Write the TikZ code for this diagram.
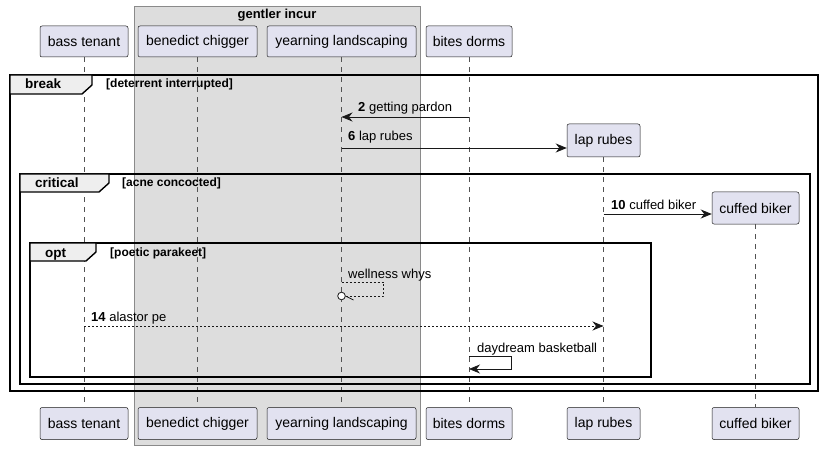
\documentclass[tikz,border=0pt]{standalone}
\usepackage{fontspec}
\setmainfont{Liberation Sans}
\usetikzlibrary{arrows.meta,calc}
\definecolor{partfill}{HTML}{E2E2F0}
\definecolor{partline}{HTML}{181818}
\definecolor{grpfill}{HTML}{DDDDDD}
\definecolor{grpline}{HTML}{8A8A8A}
\definecolor{tabfill}{HTML}{EEEEEE}
\begin{document}
\begin{tikzpicture}[x=1pt,y=-1pt,
  part/.style={draw=partline, fill=partfill, rounded corners=2pt, line width=0.5pt,
    minimum height=31pt, inner sep=0pt, font=\fontsize{14}{16}\selectfont},
  life/.style={draw=partline!75, line width=0.5pt, dash pattern=on 5pt off 5pt},
  msg/.style={draw=partline, line width=0.8pt, -{Stealth[length=11pt,width=9pt,inset=3.5pt]}},
  dmsg/.style={msg, dash pattern=on 2pt off 2pt},
  lbl/.style={anchor=base west, inner sep=0pt, font=\fontsize{13}{15}\selectfont},
  frame/.style={draw=black, line width=1.4pt},
  tab/.style={frame, fill=tabfill},
  ftitle/.style={anchor=base west, inner sep=0pt, font=\fontsize{13.5}{15}\selectfont\bfseries},
  fcond/.style={anchor=base west, inner sep=0pt, font=\fontsize{12}{14}\selectfont\bfseries}
]
\useasboundingbox (0,0) rectangle (824,449);
\fill[white] (0,0) rectangle (824,449);
% group
\draw[draw=grpline, fill=grpfill, line width=0.7pt] (134,6) rectangle (420,445);
\node[font=\fontsize{13}{15}\selectfont\bfseries, inner sep=0pt] (grp) at (277,15) {gentler incur};
% participants top
\node[part, minimum width=88pt] (bt) at (84,41.5) {bass tenant};
\node[part, minimum width=119pt] (bc) at (197.5,41.5) {benedict chigger};
\node[part, minimum width=149pt] (yl) at (341.5,41.5) {yearning landscaping};
\node[part, minimum width=86pt] (bd) at (469,41.5) {bites dorms};
\node[part, minimum width=73pt, minimum height=33pt] (lr) at (603.5,140.5) {lap rubes};
\node[part, minimum width=87pt, minimum height=32pt] (cb) at (755.5,208) {cuffed biker};
% participants bottom
\node[part, minimum width=88pt, minimum height=32pt] (bt2) at (84,423.5) {bass tenant};
\node[part, minimum width=119pt, minimum height=32pt] (bc2) at (197.5,423.5) {benedict chigger};
\node[part, minimum width=149pt, minimum height=32pt] (yl2) at (341.5,423.5) {yearning landscaping};
\node[part, minimum width=86pt, minimum height=32pt] (bd2) at (469,423.5) {bites dorms};
\node[part, minimum width=73pt, minimum height=32pt] (lr2) at (603.5,423.5) {lap rubes};
\node[part, minimum width=87pt, minimum height=32pt] (cb2) at (755.5,423.5) {cuffed biker};
% lifelines
\draw[life] (bt.south) -- (bt2.north);
\draw[life] (bc.south) -- (bc2.north);
\draw[life] (yl.south) -- (yl2.north);
\draw[life] (bd.south) -- (bd2.north);
\draw[life] (lr.south) -- (lr2.north);
\draw[life] (cb.south) -- (cb2.north);
% frames
\draw[frame] (10,75) rectangle (818,391);
\draw[tab] (10,75) -- (92,75) -- (92,85) -- (82,94) -- (10,94) -- cycle;
\node[ftitle] (fbreak) at (25,89) {break};
\node[fcond] (cbreak) at (106,88) {[deterrent interrupted]};
\draw[frame] (20,174) rectangle (810,384);
\draw[tab] (20,174) -- (109,174) -- (109,183) -- (99,192) -- (20,192) -- cycle;
\node[ftitle] (fcrit) at (35,188) {critical};
\node[fcond] (ccrit) at (122,187) {[acne concocted]};
\draw[frame] (30,243) rectangle (651,377);
\draw[tab] (30,243) -- (96,243) -- (96,252) -- (86,261) -- (30,261) -- cycle;
\node[ftitle] (fopt) at (45,257) {opt};
\node[fcond] (copt) at (110,256) {[poetic parakeet]};
% messages
\coordinate (m2s) at (bd.south |- 0,117);
\coordinate (m2e) at (yl.south |- 0,117);
\draw[msg] (m2s) -- (m2e);
\node[lbl] (l2) at (358,112) {\textbf{2} getting pardon};
\coordinate (m6s) at (yl.south |- 0,148);
\draw[msg] (m6s) -- (m6s -| lr.west);
\node[lbl] (l6) at (348,141) {\textbf{6} lap rubes};
\coordinate (m10s) at (lr.south |- 0,214);
\draw[msg] (m10s) -- (m10s -| cb.west);
\node[lbl] (l10) at (611,209) {\textbf{10} cuffed biker};
% wellness whys
\coordinate (w1) at (yl.south |- 0,282);
\coordinate (w2) at (yl.south |- 0,296);
\draw[partline, line width=0.8pt, dash pattern=on 2pt off 2pt] (w1) -- ++(42,0) -- ++(0,14) -- ($(w2)+(4,0)$);
\draw[partline, line width=0.8pt, fill=white] (w2) circle (3.8pt);
\draw[partline, line width=0.8pt] ($(w2)+(4,0)$) -- ($(w2)+(12,4)$);
\node[lbl] (lw) at (348,278) {wellness whys};
% alastor pe
\coordinate (m14s) at (bt.south |- 0,326);
\coordinate (m14e) at (lr.south |- 0,326);
\draw[dmsg] (m14s) -- (m14e);
\node[lbl] (l14) at (91,321) {\textbf{14} alastor pe};
% daydream basketball
\coordinate (d1) at (bd.south |- 0,356);
\coordinate (d2) at (bd.south |- 0,369);
\draw[msg] (d1) -- ++(42,0) -- ++(0,13) -- (d2);
\node[lbl] (ld) at (477,352) {daydream basketball};
\end{tikzpicture}
\end{document}
